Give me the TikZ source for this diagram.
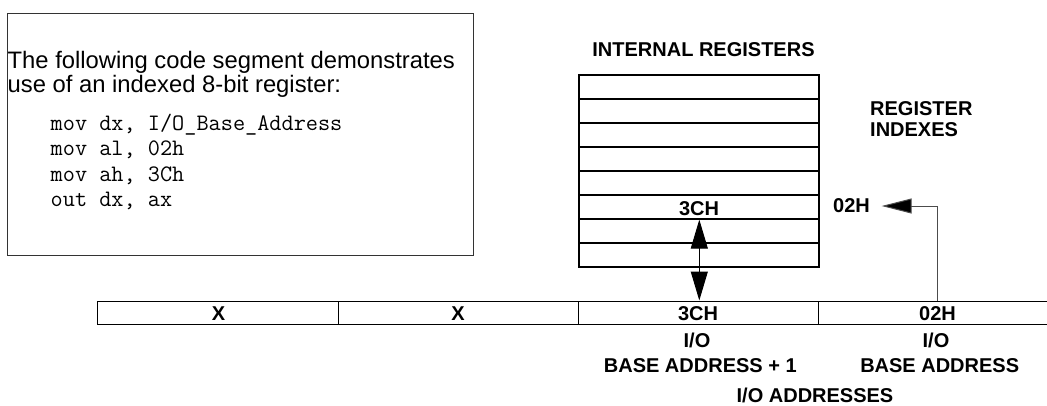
\documentclass[tikz,border=0pt]{standalone}
\usepackage{fontspec}
\setmainfont{Liberation Sans}
\usetikzlibrary{arrows.meta}
\begin{document}
\begin{tikzpicture}[x=1bp,y=-1bp,
  txt/.style={inner sep=0pt, font=\fontsize{23.8bp}{26bp}\selectfont, anchor=base west},
  code/.style={inner sep=0pt, font=\ttfamily\fontsize{23.6bp}{26bp}\selectfont, anchor=base west},
  lbl/.style={inner sep=0pt, font=\bfseries\fontsize{20bp}{22bp}\selectfont},
  reg/.style={draw=black, line width=1.2bp, minimum width=240bp, minimum height=24bp, inner sep=0pt},
  cell/.style={draw=black, line width=1bp, minimum width=240bp, minimum height=23bp, inner sep=0pt},
  bigarrow/.style={line width=1bp, {Triangle[length=29bp,width=17bp]}-{Triangle[length=29bp,width=17bp]}},
  idxarrow/.style={line width=1bp, draw=black!70, -{Triangle[length=30bp,width=15bp,fill=black]}}
]
\useasboundingbox (0,0) rectangle (1047,405);
% code box
\node[draw=black!80, line width=1bp, minimum width=466bp, minimum height=242bp, inner sep=0pt, anchor=north west] (codebox) at (7,13) {};
\node[txt] (t1) at (7.5,68.3) {The following code segment demonstrates};
\node[txt] (t2) at (7.5,92.7) {use of an indexed 8-bit register:};
\node[code] (c1) at (50.5,130) {mov dx, I/O\_Base\_Address};
\node[code] (c2) at (50.5,155.7) {mov al, 02h};
\node[code] (c3) at (50.5,181.2) {mov ah, 3Ch};
\node[code] (c4) at (50.5,206.7) {out dx, ax};
% internal registers
\node[lbl, anchor=base] (title) at (703.5,56.7) {INTERNAL REGISTERS};
\foreach \i in {1,...,8} {
  \node[reg] (r\i) at (699,{75+24*(\i-1)+12}) {};
}
\node[lbl, anchor=base] (r6txt) at (699,215) {3CH};
\node[lbl, anchor=base west] (ri1) at (870,115) {REGISTER};
\node[lbl, anchor=base west] (ri2) at (870,136) {INDEXES};
\node[lbl, anchor=base west] (idx) at (833,212) {02H};
% address bar
\node[cell] (a1) at (218,312.5) {};
\node[cell] (a2) at (458,312.5) {};
\node[cell] (a3) at (698,312.5) {};
\node[cell] (a4) at (938,312.5) {};
\node[lbl, anchor=base] (x1) at (218.5,320) {X};
\node[lbl, anchor=base] (x2) at (458,320) {X};
\node[lbl, anchor=base] (x3) at (698,320) {3CH};
\node[lbl, anchor=base] (x4) at (937.5,320) {02H};
\node[lbl, anchor=base] (io1) at (697,347.7) {I/O};
\node[lbl, anchor=base] (ba1) at (700.3,372.3) {BASE ADDRESS + 1};
\node[lbl, anchor=base] (io2) at (936,347.7) {I/O};
\node[lbl, anchor=base] (ba2) at (939.7,372.3) {BASE ADDRESS};
\node[lbl, anchor=base] (ioa) at (815,402.5) {I/O ADDRESSES};
% connectors
\draw[bigarrow] (r6.south -| 699.3,0) -- (a3.north -| 699.3,0);
\coordinate (tip) at (881.7,206);
\draw[idxarrow] (a4.north -| 937.3,0) |- (tip);
\end{tikzpicture}
\end{document}
